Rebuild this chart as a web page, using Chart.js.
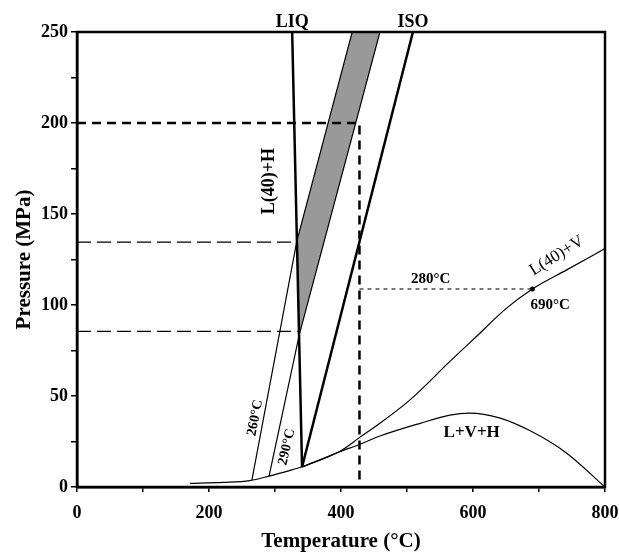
<!DOCTYPE html>
<html>
<head>
<meta charset="utf-8">
<script src="https://cdn.jsdelivr.net/npm/chart.js@4.4.1/dist/chart.umd.min.js"></script>
<style>
  html, body { margin: 0; padding: 0; background: #fff; }
  #wrap { width: 619px; height: 556px; }
</style>
</head>
<body>
<div id="wrap"><canvas id="graph1"></canvas></div>
<script>
// curves, temperature (°C) / pressure (MPa)
const liqT = [326, 341];
const liqP = [250, 11];
const isoT = [509, 341];
const isoP = [250, 11];
const iso260T = [265, 333, 417];
const iso260P = [3.8, 135, 250];
const iso290T = [291, 337, 459];
const iso290P = [6, 84, 250];
const lvT = [341, 398, 429, 459, 505, 565, 606, 650, 690, 742, 800];
const lvP = [11, 19.5, 27.4, 35, 48, 69, 83, 98, 108.8, 119.3, 131];
const lvhT = [341, 398, 429, 459, 520, 565, 595, 640, 686, 742, 800];
const lvhP = [11, 19.4, 23.5, 28, 35, 39.5, 40.6, 38, 31, 18.6, 0];
const baseT = [171, 221, 262, 291, 341];
const baseP = [2, 2.5, 3.5, 6, 11];
// guide lines
const dash200T = [0, 428, 428];
const dash200P = [200, 200, 4];
const dash134T = [0, 333];
const dash134P = [134.5, 134.5];
const dash85T = [0, 337];
const dash85P = [85.5, 85.5];
const dot280T = [428, 690];
const dot280P = [108.8, 108.8];
const pointT = [690];
const pointP = [108.8];
// axis ticks
const xTicks = [0, 200, 400, 600, 800];
const yTicks = [0, 50, 100, 150, 200, 250];

const serif = "'Liberation Serif', 'Times New Roman', serif";

function pts (t, p) {
  return t.map((v, i) => ({ x: v, y: p[i] }));
}

// gray field between the 260 and 290 isochores above the LIQ line
const grayField = [
  { x: iso260T[2], y: iso260P[2] },
  { x: iso290T[2], y: iso290P[2] },
  { x: iso290T[1], y: iso290P[1] },
  { x: iso260T[1], y: iso260P[1] },
  { x: iso260T[2], y: iso260P[2] }
];

function line (t, p, width, dash, smooth) {
  return {
    data: pts(t, p),
    showLine: true,
    borderColor: '#000',
    borderWidth: width,
    borderDash: dash || [],
    pointRadius: 0,
    fill: false,
    cubicInterpolationMode: smooth ? 'monotone' : 'default',
    tension: smooth ? 0.4 : 0
  };
}

// texts placed in data units
const labels = [
  { text: 'L(40)+H', x: 292, y: 168, size: 18, bold: true, rot: -90 },
  { text: '260°C', x: 270, y: 38, size: 14, bold: true, rot: -79 },
  { text: '290°C', x: 318, y: 22, size: 14, bold: true, rot: -77 },
  { text: '280°C', x: 536, y: 114, size: 15, bold: true, rot: 0 },
  { text: '690°C', x: 717, y: 100, size: 15, bold: true, rot: 0 },
  { text: 'L(40)+V', x: 727, y: 127, size: 17, bold: false, rot: -32 },
  { text: 'L+V+H', x: 598, y: 30, size: 17, bold: true, rot: 0 }
];
const topLabels = [
  { text: 'LIQ', x: 326 },
  { text: 'ISO', x: 509 }
];

const decor = {
  id: 'decor',
  afterDraw (chart) {
    const ctx = chart.ctx;
    const a = chart.chartArea;
    const xs = chart.scales.x, ys = chart.scales.y;
    ctx.save();
    ctx.strokeStyle = '#000';
    ctx.lineWidth = 2.5;
    ctx.strokeRect(a.left, a.top, a.right - a.left, a.bottom - a.top);
    ctx.fillStyle = '#000';
    ctx.textAlign = 'center';
    ctx.textBaseline = 'middle';
    labels.forEach(l => {
      ctx.save();
      ctx.translate(xs.getPixelForValue(l.x), ys.getPixelForValue(l.y));
      ctx.rotate(l.rot * Math.PI / 180);
      ctx.font = (l.bold ? 'bold ' : '') + l.size + 'px ' + serif;
      ctx.fillText(l.text, 0, 0);
      ctx.restore();
    });
    ctx.font = 'bold 18px ' + serif;
    ctx.textBaseline = 'bottom';
    topLabels.forEach(l => {
      ctx.fillText(l.text, xs.getPixelForValue(l.x), a.top - 1);
    });
    ctx.restore();
  }
};

new Chart(document.getElementById('graph1'), {
  type: 'scatter',
  data: {
    datasets: [
      line(liqT, liqP, 2.5),
      line(isoT, isoP, 2.5),
      line(iso260T, iso260P, 1.2),
      line(iso290T, iso290P, 1.2),
      line(lvT, lvP, 1.2, null, true),
      line(lvhT, lvhP, 1.2, null, true),
      line(baseT, baseP, 1.2, null, true),
      line(dash200T, dash200P, 2.5, [9, 6]),
      line(dash134T, dash134P, 1.2, [14, 6]),
      line(dash85T, dash85P, 1.2, [14, 6]),
      line(dot280T, dot280P, 1, [4, 4]),
      {
        data: pts(pointT, pointP),
        pointRadius: 2.5,
        pointBackgroundColor: '#000',
        pointBorderWidth: 0,
        showLine: false
      },
      {
        data: grayField,
        showLine: true,
        borderWidth: 0,
        borderColor: 'rgba(0,0,0,0)',
        backgroundColor: '#999999',
        fill: 'shape',
        pointRadius: 0,
        order: 10
      }
    ]
  },
  options: {
    responsive: true,
    maintainAspectRatio: false,
    animation: false,
    layout: { padding: { top: 32, right: 14, left: 0, bottom: 0 } },
    plugins: { legend: { display: false }, tooltip: { enabled: false } },
    scales: {
      x: {
        type: 'linear',
        min: 0,
        max: 800,
        afterFit: s => { s.height = 69; s.paddingLeft = 0; s.paddingRight = 0; },
        ticks: {
          stepSize: 100,
          color: '#000',
          font: { family: serif, size: 18, weight: 'bold' },
          padding: 11,
          maxRotation: 0,
          callback: v => (xTicks.includes(v) ? v : '')
        },
        grid: { drawOnChartArea: false, color: '#000', tickLength: 5, lineWidth: 1.5 },
        border: { color: '#000', width: 2.5 },
        title: {
          display: true,
          text: 'Temperature (°C)',
          color: '#000',
          font: { family: serif, size: 21, weight: 'bold' },
          padding: { top: 0, bottom: 2 }
        }
      },
      y: {
        type: 'linear',
        min: 0,
        max: 250,
        afterFit: s => { s.width = 77; s.paddingTop = 0; s.paddingBottom = 0; },
        ticks: {
          stepSize: 25,
          color: '#000',
          font: { family: serif, size: 18, weight: 'bold' },
          padding: 3,
          callback: v => (yTicks.includes(v) ? v : '')
        },
        grid: { drawOnChartArea: false, color: '#000', tickLength: 6, lineWidth: 1.5 },
        border: { color: '#000', width: 2.5 },
        title: {
          display: true,
          text: 'Pressure (MPa)',
          color: '#000',
          font: { family: serif, size: 21, weight: 'bold' },
          padding: { top: 12, bottom: 0 }
        }
      }
    }
  },
  plugins: [decor]
});
</script>
</body>
</html>
